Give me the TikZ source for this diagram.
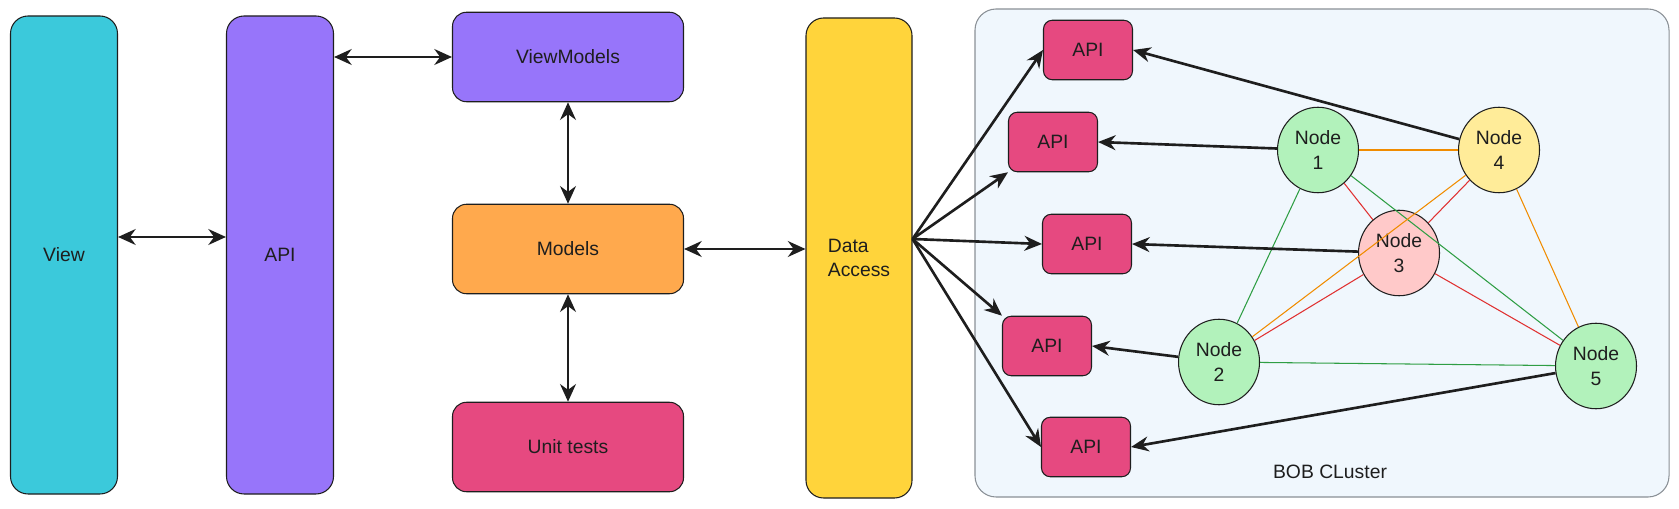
\documentclass[tikz,border=0pt]{standalone}
\usepackage{fontspec}
\setmainfont{Liberation Sans}
\usepackage{xcolor}
\usepackage{tikz}
\usetikzlibrary{
  arrows.meta,
  positioning,
  shapes.geometric
}
\definecolor{bobdark}   {HTML}{1E1E1E}
\definecolor{bobcyan}   {HTML}{3BC9DB}
\definecolor{bobviolet} {HTML}{9775FA}
\definecolor{boborange} {HTML}{FFA94D}
\definecolor{bobpink}   {HTML}{E64980}
\definecolor{bobyellow} {HTML}{FFD43B}
\definecolor{bobmint}   {HTML}{B2F2BB}
\definecolor{bobrose}   {HTML}{FFC9C9}
\definecolor{bobcream}  {HTML}{FFEC99}
\definecolor{bobsky}    {HTML}{F0F7FD}
\definecolor{bobgray}   {HTML}{8A9096}
\definecolor{linegreen} {HTML}{2F9E44}
\definecolor{linered}   {HTML}{E03131}
\definecolor{lineorange}{HTML}{F08C00}

\begin{document}
\begin{tikzpicture}[
  every node/.style={font=\fontsize{11}{14}\selectfont, text=bobdark},
  box/.style={
    rectangle, rounded corners=8pt, draw=bobdark, line width=0.6pt,
    align=center
  },
  layer/.style={box, rounded corners=10pt, minimum width=2.14cm, minimum height=9.56cm},
  panel/.style={box, minimum width=4.62cm, minimum height=1.79cm},
  apibox/.style={box, rounded corners=5pt, fill=bobpink,
    minimum width=1.78cm, minimum height=1.19cm},
  peer/.style={
    ellipse, draw=bobdark, line width=0.6pt, inner sep=0pt,
    minimum width=1.62cm, minimum height=1.71cm, align=center,
    font=\fontsize{11}{14}\selectfont
  },
  cluster/.style={
    rectangle, rounded corners=12pt, draw=bobgray, line width=0.6pt,
    fill=bobsky, minimum width=13.88cm, minimum height=9.76cm
  },
  biarr/.style={{Stealth[length=10pt,width=9pt]}-{Stealth[length=10pt,width=9pt]},
    line width=1.6pt, draw=bobdark},
  arr/.style={-{Stealth[length=10pt,width=8.5pt]}, line width=1.5pt, draw=bobdark},
  mesh/.style={line width=0.6pt},
]
\useasboundingbox (0,0) rectangle (33.58,10.16);

% BOB cluster background
\node[cluster] (bob) at (26.44,5.10) {};
\node (boblabel) at (26.60,0.72) {BOB CLuster};

% Application layers
\node[layer, fill=bobcyan]   (view) at (1.28,5.06) {View};
\node[layer, fill=bobviolet] (apil) at (5.60,5.06) {API};
\node[panel, fill=bobviolet] (vm)     at (11.36,9.02) {ViewModels};
\node[panel, fill=boborange] (models) at (11.36,5.18) {Models};
\node[panel, fill=bobpink]   (tests)  at (11.36,1.22) {Unit tests};
\node[layer, fill=bobyellow, minimum width=2.12cm, minimum height=9.60cm, align=left]
  (data) at (17.18,5.00) {Data\\Access};

% Cluster APIs
\node[apibox] (api1) at (21.76,9.16) {API};
\node[apibox] (api2) at (21.06,7.32) {API};
\node[apibox] (api3) at (21.74,5.28) {API};
\node[apibox] (api4) at (20.94,3.24) {API};
\node[apibox] (api5) at (21.72,1.22) {API};

% Cluster nodes
\node[peer, fill=bobmint]  (n1) at (26.36,7.16) {Node\\1};
\node[peer, fill=bobcream] (n4) at (29.98,7.16) {Node\\4};
\node[peer, fill=bobrose]  (n3) at (27.98,5.10) {Node\\3};
\node[peer, fill=bobmint]  (n2) at (24.38,2.92) {Node\\2};
\node[peer, fill=bobmint]  (n5) at (31.92,2.84) {Node\\5};

% Mesh links
\draw[mesh, lineorange] (n1) -- (n4);
\draw[mesh, linered]    (n1) -- (n3);
\draw[mesh, linegreen]  (n1) -- (n2);
\draw[mesh, linegreen]  (n1) -- (n5);
\draw[mesh, linered]    (n4) -- (n3);
\draw[mesh, lineorange] (n4) -- (n2);
\draw[mesh, lineorange] (n4) -- (n5);
\draw[mesh, linered]    (n3) -- (n2);
\draw[mesh, linered]    (n3) -- (n5);
\draw[mesh, linegreen]  (n2) -- (n5);

% Layer arrows
\draw[biarr] ([yshift=0.36cm]view.east) -- ([yshift=0.36cm]apil.west);
\draw[biarr] (apil.east |- vm.west) -- (vm.west);
\draw[biarr] (vm.south) -- (models.north);
\draw[biarr] (models.south) -- (tests.north);
\draw[biarr] (models.east) -- (data.west |- models.east);

% Data access fan-out
\coordinate (fan) at ([yshift=0.38cm]data.east);
\draw[arr] (fan) -- (api1.west);
\draw[arr] (fan) -- (api2.south west);
\draw[arr] (fan) -- (api3.west);
\draw[arr] (fan) -- (api4.north west);
\draw[arr] (fan) -- (api5.west);

% Node to API
\draw[arr] (n4) -- (api1.east);
\draw[arr] (n1) -- (api2.east);
\draw[arr] (n3) -- (api3.east);
\draw[arr] (n2) -- (api4.east);
\draw[arr] (n5) -- (api5.east);
\end{tikzpicture}
\end{document}
